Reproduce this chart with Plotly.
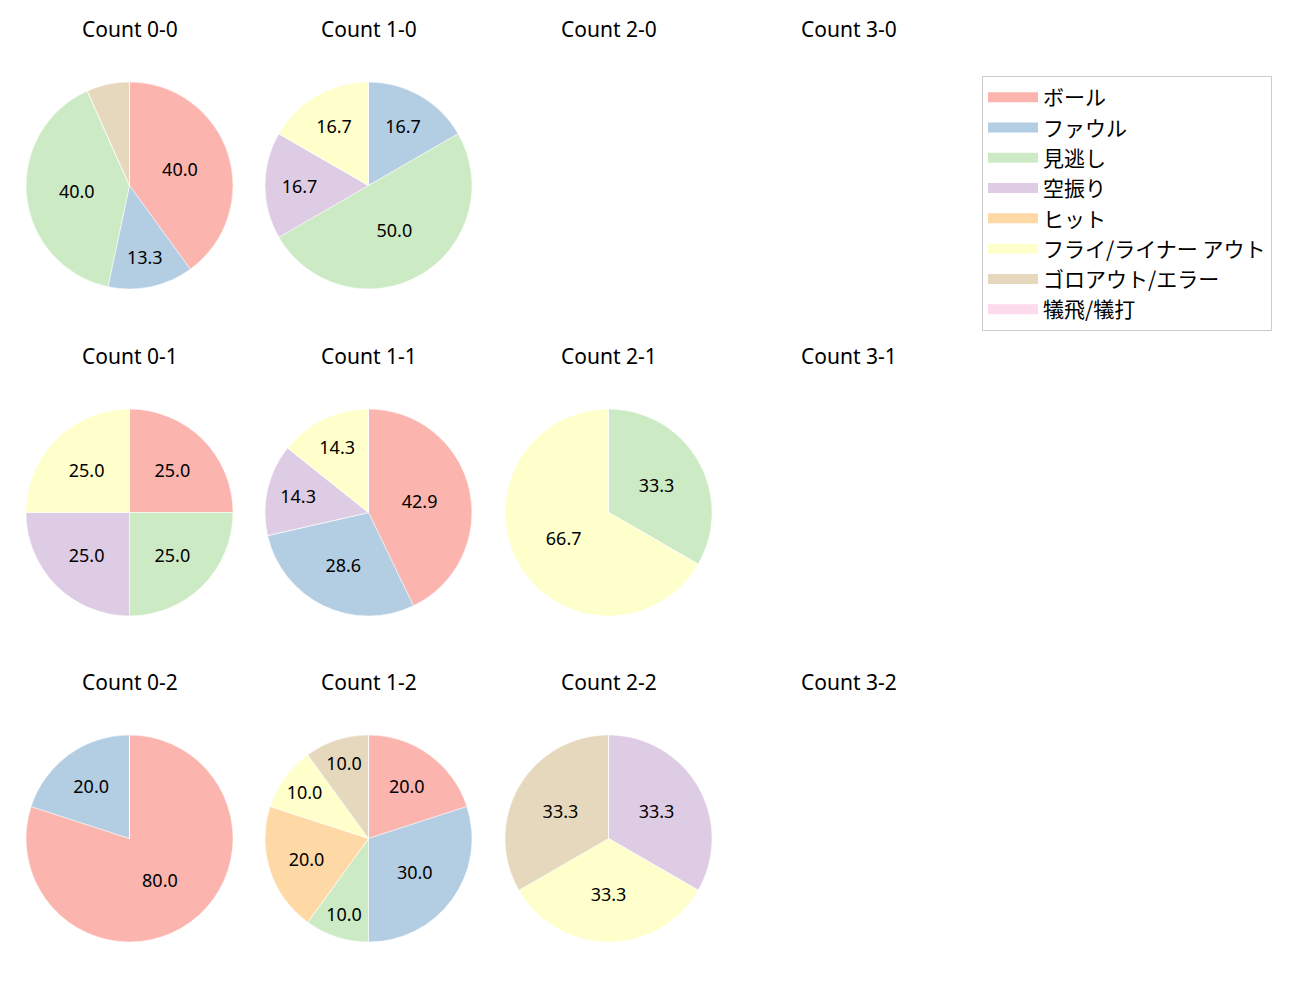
import plotly.graph_objects as go

FONT = "Noto Sans, Noto Sans CJK JP"
JP_FONT = "Noto Sans CJK JP"

result_labels = ["ボール", "ファウル", "見逃し", "空振り", "ヒット",
                 "フライ/ライナー アウト", "ゴロアウト/エラー", "犠飛/犠打"]
result_colors = ["#fbb4ae", "#b3cde3", "#ccebc5", "#decbe4",
                 "#fed9a6", "#ffffcc", "#e5d8bd", "#fddaec"]

balls = [0, 1, 2, 3]
strikes = [0, 1, 2]

# pitch counts per result, in result_labels order (None = no pitches)
count_0_0 = [6, 2, 6, 0, 0, 0, 1, 0]
count_1_0 = [0, 1, 3, 1, 0, 1, 0, 0]
count_2_0 = None
count_3_0 = None
count_0_1 = [1, 0, 1, 1, 0, 1, 0, 0]
count_1_1 = [3, 2, 0, 1, 0, 1, 0, 0]
count_2_1 = [0, 0, 1, 0, 0, 2, 0, 0]
count_3_1 = None
count_0_2 = [4, 1, 0, 0, 0, 0, 0, 0]
count_1_2 = [2, 3, 1, 0, 2, 1, 1, 0]
count_2_2 = [0, 0, 0, 1, 0, 1, 1, 0]
count_3_2 = None

counts = {
    (0, 0): count_0_0, (1, 0): count_1_0, (2, 0): count_2_0, (3, 0): count_3_0,
    (0, 1): count_0_1, (1, 1): count_1_1, (2, 1): count_2_1, (3, 1): count_3_1,
    (0, 2): count_0_2, (1, 2): count_1_2, (2, 2): count_2_2, (3, 2): count_3_2,
}

W, H = 1300, 1000
PAGE = 8  # body margin of the html page
COL_X = [129.5, 368.5, 608.5, 848.5]
ROW_Y = [185.5, 512.5, 838.5]
TITLE_Y = [29, 356, 682]
RADIUS = 103.5


def pct_text(values):
    total = sum(values)
    out = []
    for v in values:
        p = 100 * v / total
        out.append(f"{p:.1f}" if p >= 10 else "")
    return out


fig = go.Figure()
annotations = []
for s in strikes:
    for b in balls:
        cx, cy = COL_X[b] - PAGE, ROW_Y[s] - PAGE
        annotations.append(dict(
            x=cx / W, y=1 - (TITLE_Y[s] - PAGE) / H, xref="paper", yref="paper",
            text=f"Count {b}-{s}", showarrow=False,
            font=dict(size=21, color="#000000", family=FONT),
            xanchor="center", yanchor="middle",
        ))
        values = counts[(b, s)]
        if values is None:
            continue
        fig.add_trace(go.Pie(
            labels=result_labels,
            values=values,
            text=pct_text(values),
            texttemplate="%{text}",
            textposition="inside",
            insidetextorientation="horizontal",
            textfont=dict(size=18, color="#000000", family=FONT),
            marker=dict(colors=result_colors, line=dict(color="white", width=0.5)),
            sort=False,
            direction="clockwise",
            rotation=0,
            showlegend=False,
            domain=dict(
                x=[(cx - RADIUS) / W, (cx + RADIUS) / W],
                y=[1 - (cy + RADIUS) / H, 1 - (cy - RADIUS) / H],
            ),
            hovertemplate="%{label}: %{value}<extra></extra>",
        ))

# legend entries drawn as thick line swatches
for label, color in zip(result_labels, result_colors):
    fig.add_trace(go.Scatter(
        x=[None], y=[None], mode="lines", name=label,
        line=dict(color=color, width=14),
        hoverinfo="skip",
    ))

fig.update_layout(
    width=W, height=H,
    margin=dict(l=0, r=0, t=0, b=0),
    paper_bgcolor="white",
    plot_bgcolor="white",
    font=dict(family=FONT, color="#000000"),
    annotations=annotations,
    xaxis=dict(visible=False),
    yaxis=dict(visible=False),
    legend=dict(
        x=(982 - PAGE) / W, y=1 - (76 - PAGE) / H, xanchor="left", yanchor="top",
        bgcolor="white", bordercolor="#cccccc", borderwidth=1,
        font=dict(size=21, family=JP_FONT),
        itemwidth=50,
    ),
)

fig.write_html("out.html")
